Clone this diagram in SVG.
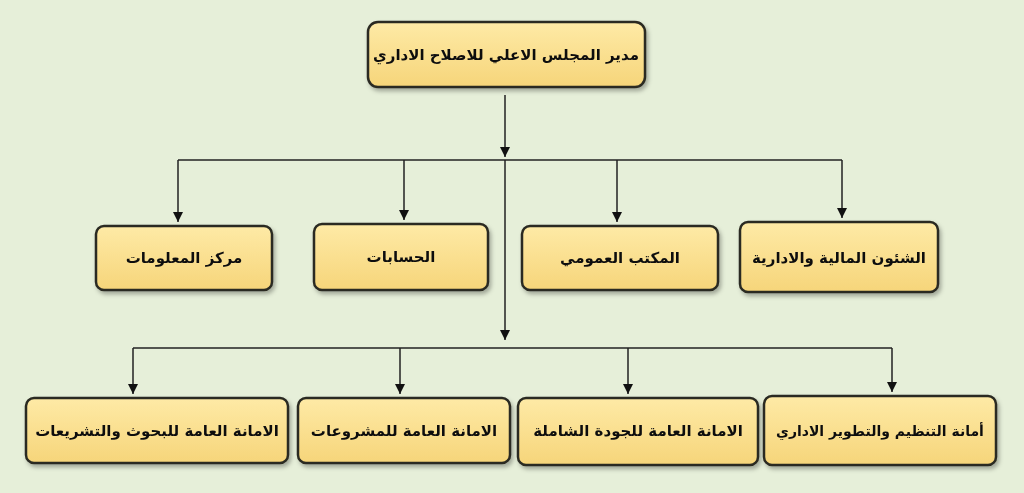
<svg xmlns="http://www.w3.org/2000/svg" width="1024" height="493" viewBox="0 0 1024 493">
<style>
.b{fill:url(#g);stroke:#2b2b22;stroke-width:2.5}
.t{font-family:"DejaVu Sans",sans-serif;font-weight:bold;font-size:15px;fill:#111;text-anchor:middle;direction:rtl}
.c{stroke:#222;stroke-width:1.5;fill:none}
</style>
<defs>
<linearGradient id="g" x1="0" y1="0" x2="0" y2="1"><stop offset="0" stop-color="#feeaa6"/><stop offset="1" stop-color="#f6d57a"/></linearGradient>
<marker id="a" viewBox="0 0 10 10" refX="10" refY="5" markerWidth="7" markerHeight="7" orient="auto"><path d="M0,0L10,5L0,10z" fill="#111"/></marker>
<filter id="s"><feDropShadow dx="2" dy="3" stdDeviation="2" flood-opacity="0.3"/></filter>
</defs>
<rect width="1024" height="493" fill="#e6efd9"/>
<g id="connectors" class="c">
<path d="M505,95V157" marker-end="url(#a)"/>
<path d="M178,160H842"/>
<path d="M505,160V340" marker-end="url(#a)"/>
<path d="M178,160V222" marker-end="url(#a)"/>
<path d="M404,160V220" marker-end="url(#a)"/>
<path d="M617,160V222" marker-end="url(#a)"/>
<path d="M842,160V218" marker-end="url(#a)"/>
<path d="M133,348H892"/>
<path d="M133,348V394" marker-end="url(#a)"/>
<path d="M400,348V394" marker-end="url(#a)"/>
<path d="M628,348V394" marker-end="url(#a)"/>
<path d="M892,348V392" marker-end="url(#a)"/>
</g>
<g filter="url(#s)">
<g id="n0"><rect class="b" x="368" y="22" width="277" height="65" rx="10"/><text class="t" x="506" y="60">مدير المجلس الاعلي للاصلاح الاداري</text></g>
<g id="n1"><rect class="b" x="740" y="222" width="198" height="70" rx="8"/><text class="t" x="839" y="263">الشئون المالية والادارية</text></g>
<g id="n2"><rect class="b" x="522" y="226" width="196" height="64" rx="8"/><text class="t" x="620" y="263">المكتب العمومي</text></g>
<g id="n3"><rect class="b" x="314" y="224" width="174" height="66" rx="8"/><text class="t" x="401" y="262">الحسابات</text></g>
<g id="n4"><rect class="b" x="96" y="226" width="176" height="64" rx="8"/><text class="t" x="184" y="263">مركز المعلومات</text></g>
<g id="n5"><rect class="b" x="764" y="396" width="232" height="69" rx="8"/><text class="t" x="880" y="436" style="font-size:14px">أمانة التنظيم والتطوير الاداري</text></g>
<g id="n6"><rect class="b" x="518" y="398" width="240" height="67" rx="8"/><text class="t" x="638" y="436">الامانة العامة للجودة الشاملة</text></g>
<g id="n7"><rect class="b" x="298" y="398" width="212" height="65" rx="8"/><text class="t" x="404" y="436">الامانة العامة للمشروعات</text></g>
<g id="n8"><rect class="b" x="26" y="398" width="262" height="65" rx="8"/><text class="t" x="157" y="436">الامانة العامة للبحوث والتشريعات</text></g>
</g>
</svg>
